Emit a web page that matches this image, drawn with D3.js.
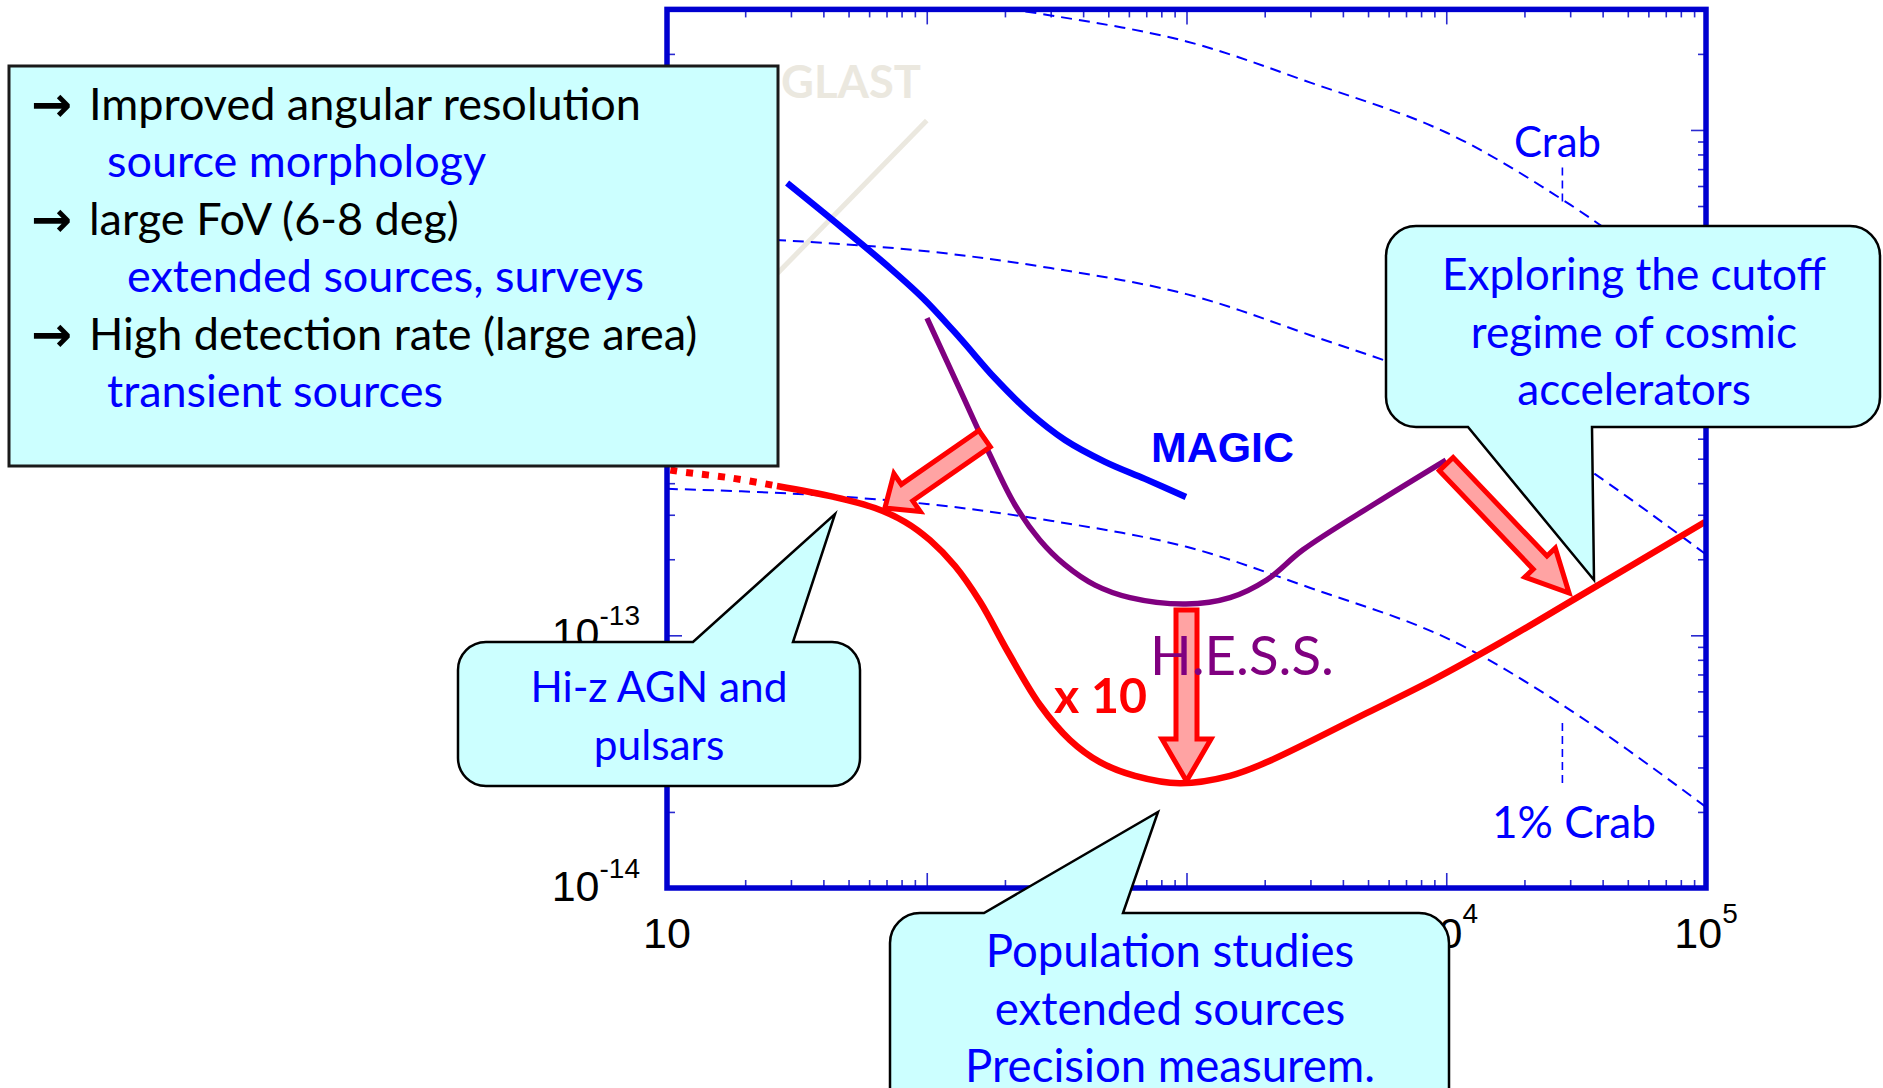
<!DOCTYPE html>
<html><head><meta charset="utf-8">
<script src="https://cdn.jsdelivr.net/npm/d3@7"></script>
<style>
html,body{margin:0;padding:0;background:#fff;}
svg{display:block;}
</style></head><body>
<svg id="chart" width="1883" height="1088"></svg>
<script>
// ---------------- data ----------------
// x tick labels visible in the chart (10^2 and 10^3 are covered in the original)
const xTickValues = [10, 100, 1000, 10000, 100000];
const xLabelValues = [10, 10000, 100000];
const xLabelExponents = ["", "4", "5"];
const yTickValues = [1e-14, 1e-13, 1e-12, 1e-11];
const yLabelValues = [1e-14, 1e-13];
const yLabelExponents = ["-14", "-13"];

const crabEnergy = [10, 30, 100, 300, 1000, 3000, 10000, 30000, 100000];
const crabFlux   = [3.80e-11, 3.64e-11, 3.31e-11, 2.84e-11, 2.24e-11, 1.54e-11, 9.77e-12, 5.06e-12, 2.09e-12];
const crab10Flux = [3.80e-12, 3.64e-12, 3.31e-12, 2.84e-12, 2.24e-12, 1.54e-12, 9.77e-13, 5.06e-13, 2.09e-13];
const crab1Flux  = [3.80e-13, 3.64e-13, 3.31e-13, 2.84e-13, 2.24e-13, 1.54e-13, 9.77e-14, 5.06e-14, 2.09e-14];

const magicEnergy = [29.0, 46.3, 72.2, 98.5, 134.3, 183.2, 249.8, 340.6, 485.6, 692.2, 995];
const magicFlux   = [6.17e-12, 4.17e-12, 2.84e-12, 2.12e-12, 1.50e-12, 1.04e-12, 7.59e-13, 5.93e-13, 4.86e-13, 4.16e-13, 3.53e-13];

const hessEnergy = [100.2, 134.3, 175.2, 218.7, 272.9, 340.6, 444.6, 606.0, 995, 1471, 2041, 2809, 5364, 9977];
const hessFlux   = [1.80e-12, 9.36e-13, 5.17e-13, 3.28e-13, 2.38e-13, 1.90e-13, 1.58e-13, 1.41e-13, 1.33e-13, 1.41e-13, 1.66e-13, 2.18e-13, 3.34e-13, 4.94e-13];

const ctaLowEnergy = [10.3, 11.5, 17.5, 26.5];
const ctaLowFlux   = [4.51e-13, 4.43e-13, 4.20e-13, 3.90e-13];

const ctaEnergy = [26.5, 43.9, 63.2, 82.5, 102.9, 128.5, 160.3, 205.5, 272.9, 356.0, 464.5, 633.4, 944, 1471, 2041, 4954, 8892, 16107, 31870, 99100];
const ctaFlux   = [3.90e-13, 3.53e-13, 3.19e-13, 2.81e-13, 2.38e-13, 1.88e-13, 1.36e-13, 8.59e-14, 5.30e-14, 3.85e-14, 3.15e-14, 2.78e-14, 2.60e-14, 2.78e-14, 3.15e-14, 4.93e-14, 6.66e-14, 9.33e-14, 1.41e-13, 2.81e-13];

const glastEnergy = [15, 100];
const glastFlux   = [1.48e-12, 1.09e-11];

// improvement arrows (energy, flux) tail -> tip
const arrowFrom = [[167, 6.0e-13], [1000, 1.26e-13], [10000, 4.76e-13]];
const arrowTo   = [[69, 3.19e-13], [1000, 2.65e-14], [29700, 1.47e-13]];

// ---------------- setup ----------------
const svg = d3.select("#chart");
const x = d3.scaleLog().domain([10, 1e5]).range([667, 1706]);
const y = d3.scaleLog().domain([1e-14, 3e-11]).range([888, 9.4]);
const X0 = x.range()[0], X1 = x.range()[1], YB = y.range()[0], YT = y.range()[1];

const red = "#ff0000", purple = "#800080", blue = "#0000ff", frameBlue = "#0000d0",
      cyan = "#ccffff", pink = "#ffa3a3", tickCol = "#2a2ad0";
const calibri = "Lato, 'Open Sans', sans-serif";
const arial = "'Liberation Sans', Arial, sans-serif";

svg.append("defs").append("clipPath").attr("id", "plotclip").append("rect")
  .attr("x", X0).attr("y", YT).attr("width", X1 - X0).attr("height", YB - YT);

// ---------------- ticks ----------------
function minors(lo, hi) {
  const out = [];
  for (let e = Math.round(Math.log10(lo)); e < Math.round(Math.log10(hi)); e++)
    for (let k = 2; k <= 9; k++) out.push(k * Math.pow(10, e));
  return out;
}
const xMinor = minors(10, 1e5);
const yMinor = minors(1e-14, 1e-10).filter(v => v < 2.9e-11);

function addAxis(gen, tr) {
  const g = svg.append("g").attr("transform", tr).call(gen);
  g.select(".domain").remove();
  g.selectAll("text").remove();
  g.selectAll("line").attr("stroke", tickCol).attr("stroke-width", 1.6);
}
addAxis(d3.axisBottom(x).tickValues(xTickValues).tickSize(-15).tickFormat(""), `translate(0,${YB})`);
addAxis(d3.axisBottom(x).tickValues(xMinor).tickSize(-8).tickFormat(""), `translate(0,${YB})`);
addAxis(d3.axisTop(x).tickValues(xTickValues).tickSize(-15).tickFormat(""), `translate(0,${YT})`);
addAxis(d3.axisTop(x).tickValues(xMinor).tickSize(-8).tickFormat(""), `translate(0,${YT})`);
addAxis(d3.axisLeft(y).tickValues(yTickValues).tickSize(-15).tickFormat(""), `translate(${X0},0)`);
addAxis(d3.axisLeft(y).tickValues(yMinor).tickSize(-8).tickFormat(""), `translate(${X0},0)`);
addAxis(d3.axisRight(y).tickValues(yTickValues).tickSize(-15).tickFormat(""), `translate(${X1},0)`);
addAxis(d3.axisRight(y).tickValues(yMinor).tickSize(-8).tickFormat(""), `translate(${X1},0)`);

// tick labels
xLabelValues.forEach((v, i) => {
  const t = svg.append("text").attr("x", x(v)).attr("y", 948).attr("text-anchor", "middle")
    .attr("font-family", arial).attr("font-size", 43).attr("fill", "#000");
  t.append("tspan").text("10");
  if (xLabelExponents[i]) t.append("tspan").attr("dy", -25).attr("font-size", 28).text(xLabelExponents[i]);
});
yLabelValues.forEach((v, i) => {
  const t = svg.append("text").attr("x", 640).attr("y", y(v) + 13).attr("text-anchor", "end")
    .attr("font-family", arial).attr("font-size", 43).attr("fill", "#000");
  t.append("tspan").text("10");
  t.append("tspan").attr("dy", -23).attr("font-size", 28).text(yLabelExponents[i]);
});

// ---------------- curves ----------------
const line = d3.line().x(d => x(d[0])).y(d => y(d[1])).curve(d3.curveCatmullRom.alpha(0.5));
const zip = (a, b) => a.map((v, i) => [v, b[i]]);
const plot = svg.append("g").attr("clip-path", "url(#plotclip)");

plot.append("path").attr("d", line(zip(glastEnergy, glastFlux)))
  .attr("fill", "none").attr("stroke", "#ebe8df").attr("stroke-width", 5);

[crabFlux, crab10Flux, crab1Flux].forEach(f => {
  plot.append("path").attr("d", line(zip(crabEnergy, f)))
    .attr("fill", "none").attr("stroke", blue).attr("stroke-width", 2).attr("stroke-dasharray", "11,7");
});

plot.append("path").attr("d", line(zip(magicEnergy, magicFlux)))
  .attr("fill", "none").attr("stroke", blue).attr("stroke-width", 6.5);
plot.append("path").attr("d", line(zip(hessEnergy, hessFlux)))
  .attr("fill", "none").attr("stroke", purple).attr("stroke-width", 5.5);
plot.append("path").attr("d", line(zip(ctaLowEnergy, ctaLowFlux)))
  .attr("fill", "none").attr("stroke", red).attr("stroke-width", 7).attr("stroke-dasharray", "7,9");
plot.append("path").attr("d", line(zip(ctaEnergy, ctaFlux)))
  .attr("fill", "none").attr("stroke", red).attr("stroke-width", 6.5);

// frame
svg.append("rect").attr("x", X0).attr("y", YT).attr("width", X1 - X0).attr("height", YB - YT)
  .attr("fill", "none").attr("stroke", frameBlue).attr("stroke-width", 5.5);

// Crab label stubs
svg.append("line").attr("x1", x(2.8e4)).attr("x2", x(2.8e4)).attr("y1", y(7.1e-12)).attr("y2", y(5.1e-12))
  .attr("stroke", blue).attr("stroke-width", 1.6).attr("stroke-dasharray", "8,5");
svg.append("line").attr("x1", x(2.8e4)).attr("x2", x(2.8e4)).attr("y1", y(4.5e-14)).attr("y2", y(2.5e-14))
  .attr("stroke", blue).attr("stroke-width", 1.6).attr("stroke-dasharray", "8,5");

// ---------------- arrows ----------------
function arrowPts(p0, p1, sw, hw, hl) {
  const dx = p1[0] - p0[0], dy = p1[1] - p0[1], L = Math.hypot(dx, dy);
  const ux = dx / L, uy = dy / L, nx = -uy, ny = ux;
  const bx = p1[0] - ux * hl, by = p1[1] - uy * hl;
  return [[p0[0] + nx * sw, p0[1] + ny * sw], [bx + nx * sw, by + ny * sw], [bx + nx * hw, by + ny * hw],
          p1, [bx - nx * hw, by - ny * hw], [bx - nx * sw, by - ny * sw], [p0[0] - nx * sw, p0[1] - ny * sw]];
}
const arrowShape = [[10, 23, 27], [10.5, 24.5, 42], [9.5, 21, 42]];
arrowFrom.forEach((a, i) => {
  const p0 = [x(a[0]), y(a[1])], p1 = [x(arrowTo[i][0]), y(arrowTo[i][1])];
  const s = arrowShape[i];
  svg.append("polygon").attr("points", arrowPts(p0, p1, s[0], s[1], s[2]).map(p => p.join(",")).join(" "))
    .attr("fill", pink).attr("stroke", red).attr("stroke-width", 5).attr("stroke-linejoin", "miter");
});

// ---------------- in-plot labels ----------------
function fitText(sel, target) {
  const w = sel.node().getComputedTextLength();
  const fs = parseFloat(sel.attr("font-size"));
  sel.attr("font-size", fs * target / w);
  return fs * target / w;
}
function label(txt, xx, yy, opts) {
  const t = svg.append("text").attr("x", xx).attr("y", yy).text(txt)
    .attr("font-family", opts.font || calibri).attr("font-size", 40)
    .attr("font-weight", opts.weight || "normal").attr("fill", opts.fill)
    .attr("text-anchor", opts.anchor || "start");
  if (opts.width) fitText(t, opts.width);
  return t;
}
label("GLAST", 781, 98, {fill: "#ebe8df", weight: "bold", width: 140});
label("MAGIC", 1151, 462, {fill: blue, weight: "bold", font: arial, width: 143});
label("H.E.S.S.", 1150, 675, {fill: purple, width: 184});
label("x 10", 1054, 713, {fill: red, weight: "bold", width: 93});
label("Crab", 1514, 157, {fill: blue, width: 87});
label("1% Crab", 1492, 838, {fill: blue, width: 164});

// ---------------- text box ----------------
svg.append("rect").attr("x", 9).attr("y", 66).attr("width", 769).attr("height", 400)
  .attr("fill", cyan).attr("stroke", "#1a1a1a").attr("stroke-width", 3);

const boxLines = [
  {t: "Improved angular resolution", x: 89, y: 120, c: "#000", arrow: true},
  {t: "source morphology", x: 107, y: 177, c: blue},
  {t: "large FoV (6-8 deg)", x: 89, y: 235, c: "#000", arrow: true},
  {t: "extended sources, surveys", x: 127, y: 292, c: blue},
  {t: "High detection rate (large area)", x: 89, y: 350, c: "#000", arrow: true},
  {t: "transient sources", x: 107, y: 407, c: blue}
];
const first = label(boxLines[0].t, boxLines[0].x, boxLines[0].y, {fill: boxLines[0].c, width: 552});
const boxFS = parseFloat(first.attr("font-size"));
boxLines.forEach((l, i) => {
  if (i > 0) label(l.t, l.x, l.y, {fill: l.c}).attr("font-size", boxFS);
  if (l.arrow) label("→", 31, l.y + 1, {fill: "#000", font: "'DejaVu Sans', sans-serif", weight: "bold", width: 41});
});

// ---------------- callouts ----------------
function callout(x0, y0, x1, y1, r, edge, a, b, tip) {
  const p = d3.path();
  p.moveTo(x0 + r, y0);
  if (edge === "top") { p.lineTo(a, y0); p.lineTo(tip[0], tip[1]); p.lineTo(b, y0); }
  p.lineTo(x1 - r, y0); p.arcTo(x1, y0, x1, y0 + r, r);
  p.lineTo(x1, y1 - r); p.arcTo(x1, y1, x1 - r, y1, r);
  if (edge === "bottom") { p.lineTo(b, y1); p.lineTo(tip[0], tip[1]); p.lineTo(a, y1); }
  p.lineTo(x0 + r, y1); p.arcTo(x0, y1, x0, y1 - r, r);
  p.lineTo(x0, y0 + r); p.arcTo(x0, y0, x0 + r, y0, r);
  p.closePath();
  svg.append("path").attr("d", p.toString()).attr("fill", cyan).attr("stroke", "#000").attr("stroke-width", 2.5);
}
function calloutText(lines, cx, ys, fitIdx, width) {
  const ref = label(lines[fitIdx], cx, ys[fitIdx], {fill: blue, anchor: "middle", width: width});
  const fs = ref.attr("font-size");
  lines.forEach((t, i) => { if (i !== fitIdx) label(t, cx, ys[i], {fill: blue, anchor: "middle"}).attr("font-size", fs); });
}

callout(1386, 226, 1880, 427, 30, "bottom", 1468, 1592, [1594, 580]);
calloutText(["Exploring the cutoff", "regime of cosmic", "accelerators"], 1634, [290, 348, 405], 0, 384);

callout(458, 642, 860, 786, 28, "top", 693, 793, [835, 514]);
calloutText(["Hi-z AGN and", "pulsars"], 659, [702, 760], 0, 257);

callout(890, 913, 1449, 1130, 30, "top", 984, 1123, [1158, 812]);
calloutText(["Population studies", "extended sources", "Precision measurem."], 1170, [967, 1025, 1082], 2, 410);
</script>
</body></html>
